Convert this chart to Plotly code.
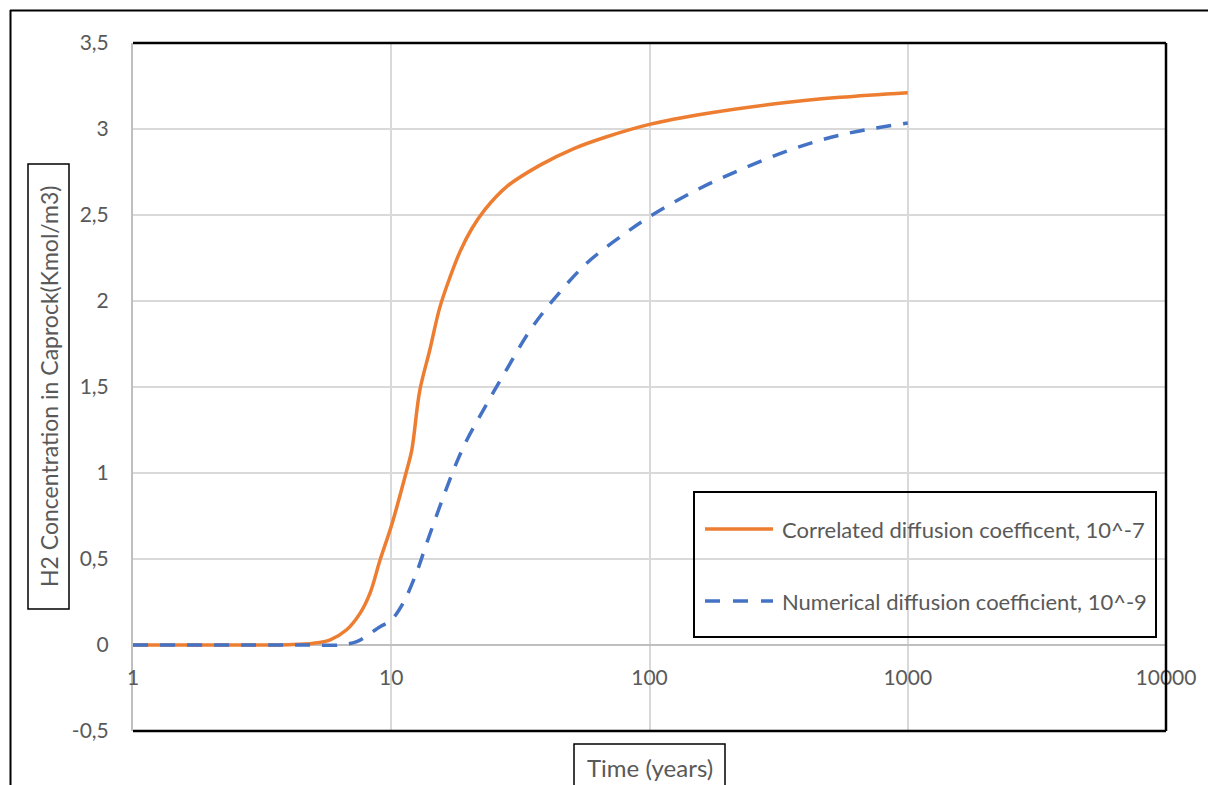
import plotly.graph_objects as go

# H2 concentration in caprock vs time (log time axis)
time_correlated = [1, 2, 3, 4, 5, 5.8, 6.7, 7.57, 8.27, 9.05, 10, 11.5, 12, 12.9, 14.1,
                   15.4, 16.9, 18.5, 20.5, 23, 28, 37.7, 50.7, 68.3, 100, 166, 301, 547, 1000]
conc_correlated = [0, 0, 0, 0.002, 0.01, 0.03, 0.087, 0.184, 0.30, 0.494, 0.69, 1.02, 1.13,
                   1.48, 1.715, 1.96, 2.14, 2.29, 2.42, 2.53, 2.665, 2.79, 2.885, 2.955,
                   3.027, 3.09, 3.145, 3.184, 3.211]

time_numerical = [1, 2, 3, 4, 5, 6.3, 7.35, 9.05, 10, 11.1, 12.5, 13.7, 15.9, 17.9, 19.6,
                  23.4, 27.2, 34.5, 42.4, 57.1, 81.6, 100, 148, 224, 350, 547, 1000]
conc_numerical = [0, 0, 0, 0, 0, 0, 0.02, 0.106, 0.145, 0.242, 0.417, 0.59, 0.86, 1.06, 1.19,
                  1.40, 1.57, 1.83, 2.006, 2.219, 2.40, 2.49, 2.636, 2.762, 2.878, 2.965, 3.035]

series_names = ["Correlated diffusion coefficent, 10^-7",
                "Numerical diffusion coefficient, 10^-9"]

x_tickvals = [1, 10, 100, 1000, 10000]
x_ticktext = ["1", "10", "100", "1000", "10000"]
y_tickvals = [-0.5, 0, 0.5, 1, 1.5, 2, 2.5, 3, 3.5]
y_ticktext = ["-0,5", "0", "0,5", "1", "1,5", "2", "2,5", "3", "3,5"]

x_title = "Time (years)"
y_title = "H2 Concentration in Caprock(Kmol/m3)"

ORANGE = "#ED7D31"
BLUE = "#4472C4"
TEXT = "#595959"
GRID = "#D9D9D9"
AXIS = "#BFBFBF"
FONT = "Lato"

W, H = 1208, 785
PL, PR, PT, PB = 133, 1166, 43, 731


def px(x):
    return (x - PL) / (PR - PL)


def py(y):
    return (PB - y) / (PB - PT)


fig = go.Figure()
fig.add_trace(go.Scatter(x=time_correlated, y=conc_correlated, mode="lines",
                         name=series_names[0],
                         line=dict(color=ORANGE, width=3.5, shape="spline", smoothing=1.0)))
fig.add_trace(go.Scatter(x=time_numerical, y=conc_numerical, mode="lines",
                         name=series_names[1],
                         line=dict(color=BLUE, width=3.5, dash="15px,12px",
                                   shape="spline", smoothing=1.0)))

shapes = []
black = dict(color="black", width=2.5)
# plot-area border (top, right, bottom)
shapes.append(dict(type="line", xref="paper", yref="paper", x0=0, x1=1, y0=1, y1=1, line=black))
shapes.append(dict(type="line", xref="paper", yref="paper", x0=1, x1=1, y0=0, y1=1, line=black))
shapes.append(dict(type="line", xref="paper", yref="paper", x0=0, x1=1, y0=0, y1=0, line=black))
# outer chart frame
frame = dict(color="black", width=2)
shapes.append(dict(type="line", xref="paper", yref="paper", x0=px(10), x1=px(1230),
                   y0=py(10.5), y1=py(10.5), line=frame))
shapes.append(dict(type="line", xref="paper", yref="paper", x0=px(10.5), x1=px(10.5),
                   y0=py(10), y1=py(800), line=frame))
# axis-title boxes
thin = dict(color="black", width=1.5)
shapes.append(dict(type="rect", xref="paper", yref="paper", x0=px(28), x1=px(69),
                   y0=py(609), y1=py(164), line=thin))
shapes.append(dict(type="rect", xref="paper", yref="paper", x0=px(574), x1=px(725),
                   y0=py(800), y1=py(744), line=thin))
# legend box and samples
shapes.append(dict(type="rect", xref="paper", yref="paper", x0=px(694), x1=px(1156),
                   y0=py(637), y1=py(492), line=dict(color="black", width=2)))
shapes.append(dict(type="line", xref="paper", yref="paper", x0=px(705), x1=px(773),
                   y0=py(529), y1=py(529), line=dict(color=ORANGE, width=3.5)))
shapes.append(dict(type="line", xref="paper", yref="paper", x0=px(705), x1=px(773),
                   y0=py(601), y1=py(601), line=dict(color=BLUE, width=3.5, dash="15px,13px")))

legend_font = dict(family=FONT, size=22, color=TEXT)
annotations = [
    dict(xref="paper", yref="paper", x=px(780), y=py(529), xanchor="left", yanchor="middle",
         text=series_names[0], showarrow=False, font=legend_font),
    dict(xref="paper", yref="paper", x=px(780), y=py(601), xanchor="left", yanchor="middle",
         text=series_names[1], showarrow=False, font=legend_font),
    dict(xref="paper", yref="paper", x=px(49), y=py(387), xanchor="center", yanchor="middle",
         text=y_title, textangle=-90, showarrow=False,
         font=dict(family=FONT, size=23, color=TEXT)),
    dict(xref="paper", yref="paper", x=px(649.5), y=py(767), xanchor="center", yanchor="middle",
         text=x_title, showarrow=False, font=dict(family=FONT, size=24, color=TEXT)),
]

fig.update_layout(
    width=W, height=H, autosize=False,
    margin=dict(l=PL, r=W - PR, t=PT, b=H - PB, pad=0),
    paper_bgcolor="white", plot_bgcolor="white",
    showlegend=False,
    shapes=shapes, annotations=annotations,
    font=dict(family=FONT, size=21, color=TEXT),
    xaxis=dict(type="log", range=[0, 4], tickvals=x_tickvals, ticktext=x_ticktext,
               showgrid=True, gridcolor=GRID, gridwidth=1.5,
               anchor="free", position=0.125, layer="below traces",
               showline=True, linecolor=AXIS, linewidth=2, ticks="",
               ticklabelstandoff=14, zeroline=False,
               tickfont=dict(family=FONT, size=21, color=TEXT)),
    yaxis=dict(range=[-0.5, 3.5], tickvals=y_tickvals, ticktext=y_ticktext,
               showgrid=True, gridcolor=GRID, gridwidth=1.5, zeroline=False,
               layer="below traces",
               showline=True, linecolor=AXIS, linewidth=2, ticks="",
               ticklabelstandoff=18,
               tickfont=dict(family=FONT, size=21, color=TEXT)),
)

fig.write_html("out.html")
